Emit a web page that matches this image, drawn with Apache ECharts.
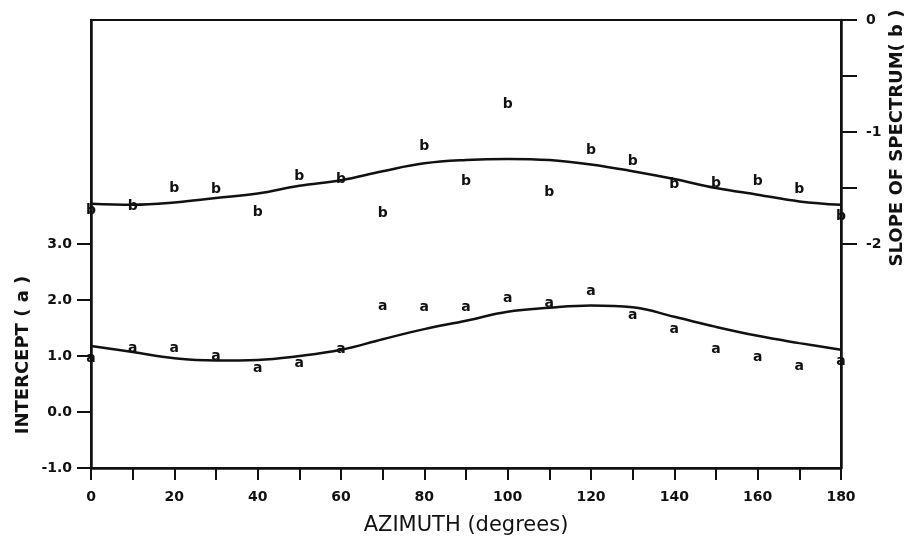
<!DOCTYPE html>
<html>
<head>
<meta charset="utf-8">
<script src="https://cdn.jsdelivr.net/npm/echarts@6/dist/echarts.min.js"></script>
<style>
  html, body { margin: 0; padding: 0; background: #fff; }
  #chart { width: 912px; height: 542px; }
</style>
</head>
<body>
<div id="chart"></div>
<script>
// azimuth (degrees)
const azimuth = [0, 10, 20, 30, 40, 50, 60, 70, 80, 90, 100, 110, 120, 130, 140, 150, 160, 170, 180]
// intercept (a), observed and fitted
const interceptA = [0.96, 1.14, 1.14, 1.0, 0.78, 0.86, 1.11, 1.88, 1.87, 1.87, 2.03, 1.94, 2.16, 1.73, 1.48, 1.12, 0.98, 0.81, 0.9]
const interceptFit = [1.18, 1.07, 0.96, 0.92, 0.93, 1.0, 1.11, 1.3, 1.48, 1.63, 1.79, 1.86, 1.9, 1.87, 1.7, 1.52, 1.36, 1.23, 1.11]
// slope of spectrum (b), observed and fitted
const slopeB = [-1.7, -1.66, -1.5, -1.51, -1.72, -1.4, -1.42, -1.73, -1.125, -1.44, -0.75, -1.54, -1.16, -1.26, -1.47, -1.46, -1.44, -1.51, -1.75]
const slopeFit = [-1.64, -1.65, -1.63, -1.59, -1.55, -1.48, -1.43, -1.35, -1.28, -1.25, -1.24, -1.25, -1.29, -1.35, -1.42, -1.5, -1.56, -1.62, -1.65]
// ticks and labels
const xTicks = [0, 10, 20, 30, 40, 50, 60, 70, 80, 90, 100, 110, 120, 130, 140, 150, 160, 170, 180]
const xLabels = [0, 20, 40, 60, 80, 100, 120, 140, 160, 180]
const leftTicks = [-1, 0, 1, 2, 3]
const rightTicks = [0, -0.5, -1, -1.5, -2]
const rightLabels = [0, -1, -2]

const font = "DejaVu Sans"
const ink = "#111"

let myChart = echarts.init(document.getElementById("chart"))

function pairs(ys) {
  return azimuth.map((x, i) => [x, ys[i]])
}

function letters(ys, ch, axisIndex) {
  return {
    type: "scatter",
    yAxisIndex: axisIndex,
    data: pairs(ys),
    symbol: "circle",
    symbolSize: 2,
    itemStyle: { color: "transparent", opacity: 1 },
    label: {
      show: true,
      position: "inside",
      formatter: ch,
      color: ink,
      textBorderWidth: 0,
      fontFamily: font,
      fontWeight: "bold",
      fontSize: 14,
    },
    z: 3,
  }
}

function fit(ys, axisIndex) {
  return {
    type: "line",
    yAxisIndex: axisIndex,
    data: pairs(ys),
    smooth: 0.4,
    showSymbol: false,
    lineStyle: { color: ink, width: 2.5 },
    z: 2,
  }
}

const tickText = {
  color: ink,
  fontFamily: font,
  fontWeight: "bold",
  fontSize: 14,
}

myChart.setOption({
  backgroundColor: "#fff",
  animation: false,
  grid: {
    left: 91,
    right: 71,
    top: 20,
    bottom: 74,
    containLabel: false,
    outerBoundsMode: "none",
    show: true,
    borderColor: ink,
    borderWidth: 2,
  },
  xAxis: {
    type: "value",
    min: 0,
    max: 180,
    interval: 10,
    name: "AZIMUTH (degrees)",
    nameLocation: "middle",
    nameGap: 47,
    nameTextStyle: { color: ink, fontFamily: font, fontSize: 21 },
    axisLine: { onZero: false, lineStyle: { color: ink, width: 2.5 } },
    axisTick: { customValues: xTicks, length: 12, lineStyle: { color: ink, width: 2 } },
    axisLabel: Object.assign({ customValues: xLabels, margin: 22 }, tickText),
    splitLine: { show: false },
  },
  yAxis: [
    {
      type: "value",
      position: "left",
      min: -1,
      max: 7,
      interval: 1,
      axisLine: { show: true, onZero: false, lineStyle: { color: ink, width: 2.5 } },
      axisTick: { customValues: leftTicks, length: 14, lineStyle: { color: ink, width: 2 } },
      axisLabel: Object.assign(
        { customValues: leftTicks, formatter: (v) => v.toFixed(1), margin: 19 },
        tickText
      ),
      splitLine: { show: false },
    },
    {
      type: "value",
      position: "right",
      min: -4,
      max: 0,
      interval: 0.5,
      axisLine: { show: true, onZero: false, lineStyle: { color: ink, width: 2.5 } },
      axisTick: { customValues: rightTicks, length: 16, lineStyle: { color: ink, width: 2 } },
      axisLabel: Object.assign({ customValues: rightLabels, margin: 25 }, tickText),
      splitLine: { show: false },
    },
  ],
  graphic: [
    {
      type: "text",
      x: 23,
      y: 355,
      rotation: Math.PI / 2,
      style: {
        text: "INTERCEPT ( a )",
        fill: ink,
        font: "bold 18px " + font,
        textAlign: "center",
        textVerticalAlign: "middle",
      },
    },
    {
      type: "text",
      x: 897,
      y: 138,
      rotation: Math.PI / 2,
      style: {
        text: "SLOPE OF SPECTRUM( b )",
        fill: ink,
        font: "bold 18px " + font,
        textAlign: "center",
        textVerticalAlign: "middle",
      },
    },
  ],
  series: [
    fit(interceptFit, 0),
    fit(slopeFit, 1),
    letters(interceptA, "a", 0),
    letters(slopeB, "b", 1),
  ],
})
</script>
</body>
</html>
